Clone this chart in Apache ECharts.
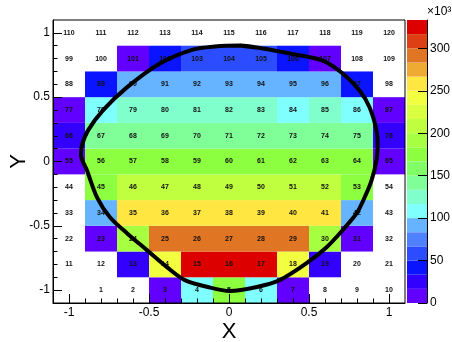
<!DOCTYPE html>
<html>
<head>
<meta charset="utf-8">
<script src="https://cdn.jsdelivr.net/npm/echarts@6/dist/echarts.min.js"></script>
<style>
  html, body { margin: 0; padding: 0; background: #fff; }
  #chart { width: 452px; height: 342px; }
</style>
</head>
<body>
<div id="chart"></div>
<script>
// bin centres, 11 x 11 bins of width 0.2
const xCenters = [-1.0, -0.8, -0.6, -0.4, -0.2, 0.0, 0.2, 0.4, 0.6, 0.8, 1.0];
const yCenters = [-1.0, -0.8, -0.6, -0.4, -0.2, 0.0, 0.2, 0.4, 0.6, 0.8, 1.0];
const binWidth = 0.2;

// bin contents in units of 10^3, bottom row first
const row0 = [0, 0, 0, 10, 110, 180, 105, 12, 0, 0, 0];
const row1 = [0, 0, 28, 245, 322, 328, 320, 240, 30, 0, 0];
const row2 = [0, 9, 190, 288, 295, 298, 294, 286, 188, 10, 0];
const row3 = [0, 95, 256, 259, 262, 264, 261, 258, 255, 93, 0];
const row4 = [0, 178, 205, 210, 212, 214, 211, 208, 204, 180, 0];
const row5 = [12, 170, 174, 176, 178, 179, 178, 176, 173, 169, 13];
const row6 = [28, 140, 144, 146, 148, 149, 147, 145, 143, 139, 27];
const row7 = [14, 112, 120, 124, 126, 127, 125, 113, 121, 110, 13];
const row8 = [0, 40, 88, 92, 95, 96, 94, 91, 87, 42, 0];
const row9 = [0, 0, 15, 45, 58, 62, 57, 44, 14, 0, 0];
const row10 = [0, 0, 0, 0, 0, 0, 0, 0, 0, 0, 0];
const rows = [row0, row1, row2, row3, row4, row5, row6, row7, row8, row9, row10];

// 20 contour levels, 0 .. 333.3 (x10^3)
const levelStep = 50 / 3;
const paletteColors = [
  '#6100ff', '#3300ff', '#0a14ff', '#2b4dff', '#4f80ff',
  '#66b3ff', '#80ffff', '#80ffcc', '#80ff99', '#80ff66',
  '#8cff40', '#a6ff40', '#c0ff40', '#d9ff40', '#f2ff40',
  '#ffe640', '#eeaa33', '#e07524', '#dd4014', '#dd0000'
];

// ticks
const majorTicks = [-1, -0.5, 0, 0.5, 1];
const minorTicks = [-1.0, -0.9, -0.8, -0.7, -0.6, -0.5, -0.4, -0.3, -0.2, -0.1, 0,
  0.1, 0.2, 0.3, 0.4, 0.5, 0.6, 0.7, 0.8, 0.9, 1.0];
const zTicks = [0, 50, 100, 150, 200, 250, 300];

// closed black contour
const curveX = [0.067, 0.211, 0.380, 0.586, 0.711, 0.816, 0.879, 0.922, 0.929, 0.922,
  0.891, 0.848, 0.798, 0.710, 0.610, 0.485, 0.317, 0.174, 0.005, -0.132,
  -0.276, -0.388, -0.513, -0.638, -0.744, -0.825, -0.888, -0.925, -0.919, -0.881,
  -0.788, -0.638, -0.432, -0.226, -0.089, 0.067, 0.211];
const curveY = [0.901, 0.878, 0.839, 0.785, 0.684, 0.552, 0.420, 0.242, 0.126, 0.009,
  -0.146, -0.278, -0.402, -0.534, -0.666, -0.790, -0.922, -0.976, -1.007, -0.976,
  -0.922, -0.821, -0.689, -0.557, -0.433, -0.278, -0.068, 0.048, 0.126, 0.242,
  0.397, 0.576, 0.762, 0.870, 0.894, 0.901, 0.878];

const cells = [];
rows.forEach((row, r) => {
  row.forEach((v, c) => {
    cells.push([xCenters[c], yCenters[r], v, r * 11 + c]);
  });
});

const fontFamily = 'Liberation Sans';

function renderCell(params, api) {
  const x = api.value(0), y = api.value(1), v = api.value(2), bin = api.value(3);
  const p0 = api.coord([x - binWidth / 2, y + binWidth / 2]);
  const p1 = api.coord([x + binWidth / 2, y - binWidth / 2]);
  const children = [];
  if (v > 0) {
    children.push({
      type: 'rect',
      shape: { x: p0[0], y: p0[1], width: p1[0] - p0[0], height: p1[1] - p0[1] },
      style: { fill: api.visual('color') }
    });
  }
  if (bin > 0) {
    children.push({
      type: 'text',
      x: (p0[0] + p1[0]) / 2,
      y: (p0[1] + p1[1]) / 2,
      z2: 5,
      style: {
        text: String(bin), fontSize: 7, fontWeight: 'bold', fontFamily: fontFamily, fill: '#111',
        align: 'center', verticalAlign: 'middle'
      }
    });
  }
  return { type: 'group', children: children };
}

function renderBand(params, api) {
  const i = api.value(0);
  const p0 = api.coord([0, (i + 1) * levelStep]);
  const p1 = api.coord([1, i * levelStep]);
  return {
    type: 'rect',
    shape: { x: p0[0], y: p0[1], width: p1[0] - p0[0], height: p1[1] - p0[1] },
    style: { fill: paletteColors[i] }
  };
}

const axisText = { color: '#000', fontSize: 12, fontFamily: fontFamily };
const blackLine = { lineStyle: { color: '#000', width: 1 } };

const option = {
  backgroundColor: '#fff',
  animation: false,
  grid: [
    { left: 53, top: 20, width: 352, height: 283, show: true, borderColor: '#000',
      borderWidth: 1, backgroundColor: 'transparent', z: 10,
      containLabel: false, outerBoundsMode: 'none' },
    { left: 407, top: 20, width: 20, height: 283,
      containLabel: false, outerBoundsMode: 'none' }
  ],
  visualMap: {
    type: 'piecewise',
    show: false,
    seriesIndex: 0,
    dimension: 2,
    pieces: paletteColors.map((c, i) => ({ gte: i * levelStep, lt: (i + 1) * levelStep, color: c }))
  },
  xAxis: [
    {
      gridIndex: 0, type: 'value', min: -1.1, max: 1.1, position: 'bottom', z: 10,
      name: 'X', nameLocation: 'middle', nameGap: 18, nameMoveOverlap: false,
      nameTextStyle: { color: '#000', fontSize: 22, fontFamily: fontFamily },
      axisLine: { onZero: false, ...blackLine },
      axisTick: { inside: true, length: 9, customValues: majorTicks, ...blackLine },
      axisLabel: { customValues: majorTicks, margin: 4, ...axisText },
      splitLine: { show: false }
    },
    {
      gridIndex: 0, type: 'value', min: -1.1, max: 1.1, position: 'bottom', z: 10,
      axisLine: { show: false, onZero: false },
      axisTick: { inside: true, length: 4.5, customValues: minorTicks, ...blackLine },
      axisLabel: { show: false },
      splitLine: { show: false }
    },
    { gridIndex: 1, type: 'value', min: 0, max: 1, show: false }
  ],
  yAxis: [
    {
      gridIndex: 0, type: 'value', min: -1.1, max: 1.1, position: 'left', z: 10,
      name: 'Y', nameLocation: 'middle', nameGap: 23, nameRotate: 90, nameMoveOverlap: false,
      nameTextStyle: { color: '#000', fontSize: 22, fontFamily: fontFamily },
      axisLine: { onZero: false, ...blackLine },
      axisTick: { inside: true, length: 9, customValues: majorTicks, ...blackLine },
      axisLabel: { customValues: majorTicks, margin: 3, ...axisText },
      splitLine: { show: false }
    },
    {
      gridIndex: 0, type: 'value', min: -1.1, max: 1.1, position: 'left', z: 10,
      axisLine: { show: false, onZero: false },
      axisTick: { inside: true, length: 4.5, customValues: minorTicks, ...blackLine },
      axisLabel: { show: false },
      splitLine: { show: false }
    },
    {
      gridIndex: 1, type: 'value', min: 0, max: 20 * levelStep, position: 'right', z: 10,
      name: '×10³', nameLocation: 'end', nameGap: 2, nameMoveOverlap: false,
      nameTextStyle: { color: '#000', fontSize: 12, fontFamily: fontFamily, align: 'left' },
      axisLine: { onZero: false, ...blackLine },
      axisTick: { inside: true, length: 9, customValues: zTicks, ...blackLine },
      axisLabel: { customValues: zTicks, margin: 3, ...axisText },
      splitLine: { show: false }
    }
  ],
  series: [
    {
      type: 'custom', xAxisIndex: 0, yAxisIndex: 0,
      renderItem: renderCell,
      encode: { x: 0, y: 1 },
      data: cells
    },
    {
      type: 'custom', xAxisIndex: 2, yAxisIndex: 2,
      renderItem: renderBand,
      data: paletteColors.map((c, i) => [i])
    },
    {
      type: 'line', xAxisIndex: 0, yAxisIndex: 0, z: 5,
      data: curveX.map((x, i) => [x, curveY[i]]),
      smooth: 0.3, symbol: 'none',
      lineStyle: { color: '#000', width: 4 }
    }
  ]
};

const chart = echarts.init(document.getElementById('chart'));
chart.setOption(option);
</script>
</body>
</html>
